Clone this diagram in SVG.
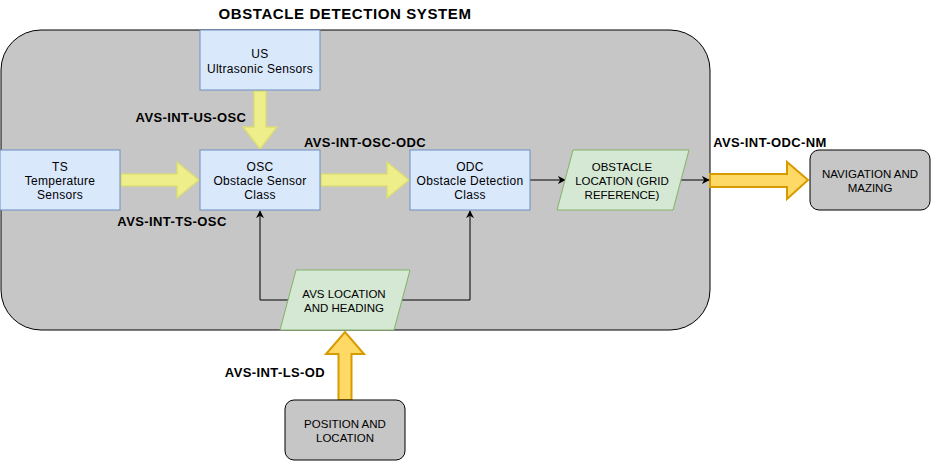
<svg xmlns="http://www.w3.org/2000/svg" width="931" height="462" viewBox="0 0 931 462">
<style>
.box{fill:#dae8fc;stroke:#6c8ebf;stroke-width:1}
.io{fill:#d5e8d4;stroke:#82b366;stroke-width:1}
.gray{fill:#c6c6c6;stroke:#000;stroke-width:1}
.t{font-family:"Liberation Sans",Arial,sans-serif;font-size:12px;letter-spacing:0.3px;fill:#000;text-anchor:middle}
.u{font-family:"Liberation Sans",Arial,sans-serif;font-size:11.5px;fill:#000;text-anchor:middle}
.lbl{font-family:"Liberation Sans",Arial,sans-serif;font-size:13px;letter-spacing:0.4px;font-weight:bold;fill:#000;text-anchor:middle}
.title{font-family:"Liberation Sans",Arial,sans-serif;font-size:15px;letter-spacing:0.6px;font-weight:bold;fill:#000;text-anchor:middle}
.ya{fill:#eeee8a;stroke:#dcdc78;stroke-width:1.5;stroke-linejoin:miter}
.oa{fill:#ffd966;stroke:#d79b00;stroke-width:2;stroke-linejoin:miter}
.ln{fill:none;stroke:#000;stroke-width:1}
</style>
<defs>
<marker id="ah" viewBox="0 0 10 10" refX="9" refY="5" markerWidth="8" markerHeight="8" markerUnits="userSpaceOnUse" orient="auto">
<path d="M0,0 L10,5 L0,10 L3,5 Z" fill="#000"/>
</marker>
</defs>
<rect width="931" height="462" fill="#fff"/>
<g id="container">
<rect class="gray" x="1" y="30" width="709" height="300" rx="40" ry="40"/>
<text class="title" x="345" y="19">OBSTACLE DETECTION SYSTEM</text>
</g>
<g id="connectors">
<path class="ya" d="M254,91 L266,91 L266,127 L277,127 L260,149 L243,127 L254,127 Z"/>
<path class="ya" d="M121,174 L177,174 L177,162 L199,180 L177,198 L177,186 L121,186 Z"/>
<path class="ya" d="M321,174 L387,174 L387,162 L409,180 L387,198 L387,186 L321,186 Z"/>
<path class="oa" d="M710,174 L787,174 L787,162 L808,180 L787,199 L787,187 L710,187 Z"/>
<path class="oa" d="M338.5,400 L338.5,354 L326,354 L345,332 L364,354 L351.5,354 L351.5,400 Z"/>
<path class="ln" d="M530,180 L565,180" marker-end="url(#ah)"/>
<path class="ln" d="M679,180 L709,180" marker-end="url(#ah)"/>
<path class="ln" d="M288,300 L260,300 L260,211" marker-end="url(#ah)"/>
<path class="ln" d="M402,300 L470,300 L470,211" marker-end="url(#ah)"/>
<text class="lbl" x="191" y="122">AVS-INT-US-OSC</text>
<text class="lbl" x="365" y="147">AVS-INT-OSC-ODC</text>
<text class="lbl" x="172" y="226">AVS-INT-TS-OSC</text>
<text class="lbl" x="770" y="147">AVS-INT-ODC-NM</text>
<text class="lbl" x="275" y="377">AVS-INT-LS-OD</text>
</g>
<g id="us">
<rect class="box" x="200" y="30" width="120" height="60"/>
<text class="t" x="260" y="58">US</text>
<text class="t" x="260" y="73">Ultrasonic Sensors</text>
</g>
<g id="ts">
<rect class="box" x="0" y="150" width="120" height="60"/>
<text class="t" x="60" y="171">TS</text>
<text class="t" x="60" y="185">Temperature</text>
<text class="t" x="60" y="199">Sensors</text>
</g>
<g id="osc">
<rect class="box" x="200" y="150" width="120" height="60"/>
<text class="t" x="260" y="171">OSC</text>
<text class="t" x="260" y="185">Obstacle Sensor</text>
<text class="t" x="260" y="199">Class</text>
</g>
<g id="odc">
<rect class="box" x="410" y="150" width="120" height="60"/>
<text class="t" x="470" y="171">ODC</text>
<text class="t" x="470" y="185">Obstacle Detection</text>
<text class="t" x="470" y="199">Class</text>
</g>
<g id="obstacle-location">
<polygon class="io" points="573,150 689,150 673,210 557,210"/>
<text class="u" x="622" y="171">OBSTACLE</text>
<text class="u" x="622" y="185">LOCATION (GRID</text>
<text class="u" x="622" y="199">REFERENCE)</text>
</g>
<g id="avs-location">
<polygon class="io" points="296,270 410,270 394,330 280,330"/>
<text class="u" x="344" y="298">AVS LOCATION</text>
<text class="u" x="344" y="312">AND HEADING</text>
</g>
<g id="navigation">
<rect class="gray" x="810" y="150" width="120" height="60" rx="9" ry="9"/>
<text class="u" x="870" y="178">NAVIGATION AND</text>
<text class="u" x="870" y="192">MAZING</text>
</g>
<g id="position">
<rect class="gray" x="285" y="400" width="120" height="60" rx="9" ry="9"/>
<text class="u" x="345" y="428">POSITION AND</text>
<text class="u" x="345" y="442">LOCATION</text>
</g>
</svg>
